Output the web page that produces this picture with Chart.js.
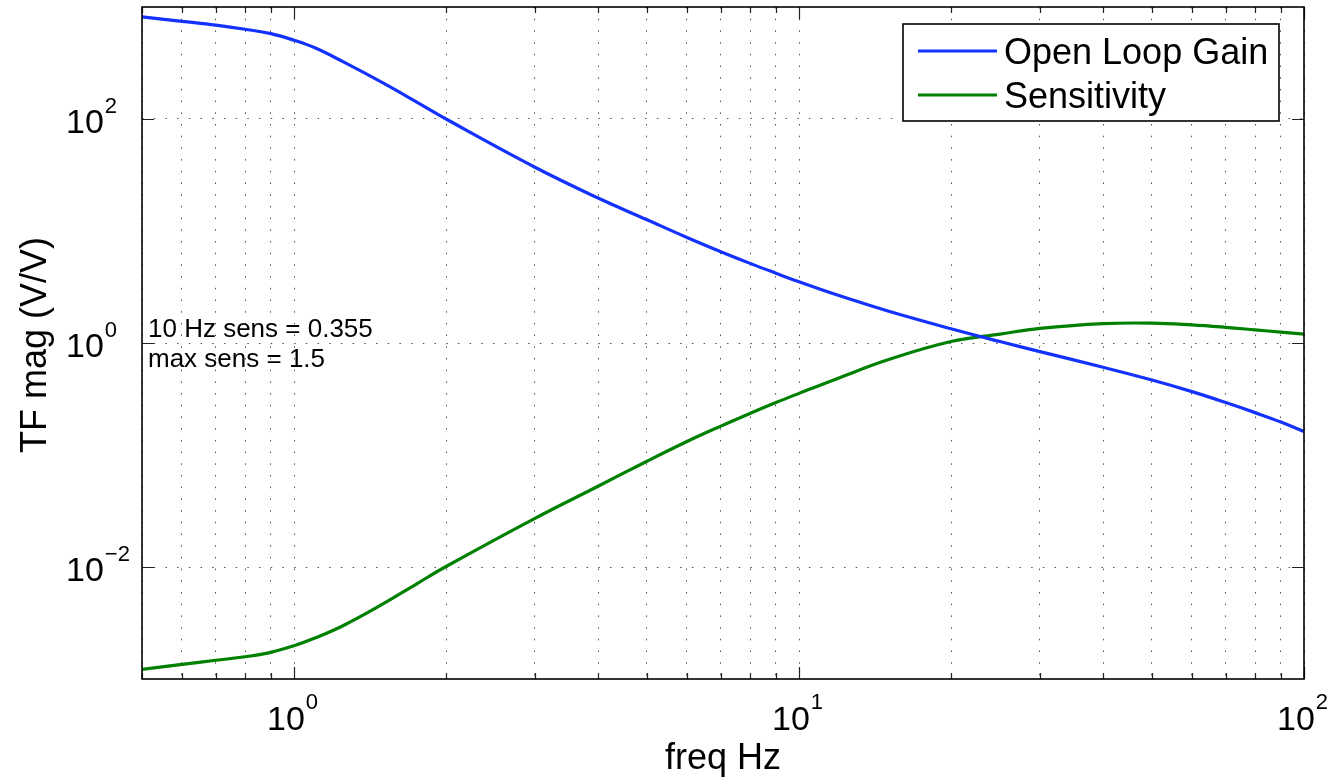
<!DOCTYPE html>
<html>
<head>
    <meta charset="utf-8">
    <title>Open Loop Gain / Sensitivity</title>
    <script src="https://cdn.jsdelivr.net/npm/chart.js@4.4.1/dist/chart.umd.min.js"></script>
    <style>
        html, body { margin: 0; padding: 0; background: #fff; }
        canvas { display: block; }
    </style>
</head>
<body>
<canvas id="tf-chart" width="1333" height="784"></canvas>
<script>
    // values
    var freqHz = [0.5, 0.6, 0.7, 0.8, 0.9, 1, 1.1, 1.25, 1.5, 1.75, 2, 3, 4, 5, 6, 7, 8, 9, 10,
        12, 15, 20, 25, 30, 40, 50, 60, 70, 80, 90, 100];
    var openLoopGain = [817, 745, 689, 633, 578, 505, 432, 325, 210, 141.6, 100, 37.1, 19.7, 12.6, 8.75,
        6.53, 5.14, 4.20, 3.52, 2.65, 1.93, 1.34, 1.03, 0.838, 0.607, 0.467, 0.368, 0.294, 0.239, 0.197, 0.162];
    var sensitivity = [0.00122, 0.00135, 0.00147, 0.00158, 0.00173, 0.00198, 0.00232, 0.00299, 0.00468,
        0.00708, 0.0101, 0.0272, 0.0526, 0.088, 0.132, 0.181, 0.235, 0.294, 0.355, 0.488, 0.708, 1.03,
        1.20, 1.35, 1.49, 1.505, 1.45, 1.38, 1.31, 1.25, 1.20];

    var xTickValues = [1, 10, 100];
    var xTickExponents = ['0', '1', '2'];
    var yTickValues = [0.01, 1, 100];
    var yTickExponents = ['\u22122', '0', '2'];
    var notes = ['10 Hz sens = 0.355', 'max sens = 1.5'];

    var FONT = '"Liberation Sans", Arial, Helvetica, sans-serif';
    var gridColor = 'rgba(50,50,50,0.85)';

    function toPoints(ys) {
        return freqHz.map(function (f, i) { return {x: f, y: ys[i]}; });
    }

    function drawPower(ctx, x, y, base, exp, bigSize, smallSize, rise) {
        ctx.font = bigSize + 'px ' + FONT;
        ctx.fillText(base, x, y);
        var w = ctx.measureText(base).width;
        ctx.font = smallSize + 'px ' + FONT;
        ctx.fillText(exp, x + w + 1, y - rise);
    }

    /* axes frame, ticks, labels, notes and legend in MATLAB style */
    var matlabAxes = {
        id: 'matlabAxes',
        afterDraw: function (chart) {
            var ctx = chart.ctx;
            var a = chart.chartArea;
            var xs = chart.scales.x, ys = chart.scales.y;
            ctx.save();
            ctx.fillStyle = '#000';
            ctx.textAlign = 'left';
            ctx.textBaseline = 'alphabetic';

            // inward tick marks
            ctx.strokeStyle = '#222';
            ctx.lineWidth = 1.2;
            xs.ticks.forEach(function (t) {
                var px = Math.round(xs.getPixelForValue(t.value)) + 0.5;
                var len = xTickValues.indexOf(t.value) >= 0 ? 12 : 6;
                ctx.beginPath();
                ctx.moveTo(px, a.bottom); ctx.lineTo(px, a.bottom - len);
                ctx.moveTo(px, a.top); ctx.lineTo(px, a.top + len);
                ctx.stroke();
            });
            yTickValues.forEach(function (v) {
                var py = Math.round(ys.getPixelForValue(v)) + 0.5;
                ctx.beginPath();
                ctx.moveTo(a.left, py); ctx.lineTo(a.left + 12, py);
                ctx.moveTo(a.right, py); ctx.lineTo(a.right - 12, py);
                ctx.stroke();
            });

            // frame
            ctx.strokeStyle = '#000';
            ctx.lineWidth = 1.6;
            ctx.strokeRect(a.left, a.top, a.right - a.left, a.bottom - a.top);

            // tick labels
            xTickValues.forEach(function (v, i) {
                var px = xs.getPixelForValue(v);
                drawPower(ctx, px - 27, a.bottom + 51, '10', xTickExponents[i], 34, 22, 21);
            });
            yTickValues.forEach(function (v, i) {
                var py = ys.getPixelForValue(v);
                drawPower(ctx, 66, py + 14, '10', yTickExponents[i], 34, 22, 20);
            });

            // axis titles
            ctx.font = '36px ' + FONT;
            ctx.textAlign = 'center';
            ctx.fillText('freq Hz', (a.left + a.right) / 2, 769);
            ctx.save();
            ctx.translate(46, (a.top + a.bottom) / 2 + 2);
            ctx.rotate(-Math.PI / 2);
            ctx.fillText('TF mag (V/V)', 0, 0);
            ctx.restore();

            // notes
            ctx.textAlign = 'left';
            ctx.font = '26px ' + FONT;
            ctx.fillText(notes[0], 148, 337);
            ctx.fillText(notes[1], 148, 367);

            // legend
            var lx = 903, ly = 24, lw = 376, lh = 97;
            ctx.fillStyle = '#fff';
            ctx.fillRect(lx, ly, lw, lh);
            ctx.strokeStyle = '#000';
            ctx.lineWidth = 1.6;
            ctx.strokeRect(lx, ly, lw, lh);
            ctx.font = '36px ' + FONT;
            chart.data.datasets.forEach(function (ds, i) {
                var rowY = i === 0 ? 51 : 95;
                ctx.strokeStyle = ds.borderColor;
                ctx.lineWidth = ds.borderWidth;
                ctx.beginPath();
                ctx.moveTo(918, rowY); ctx.lineTo(997, rowY);
                ctx.stroke();
                ctx.fillStyle = '#000';
                ctx.fillText(ds.label, 1004, rowY + 13);
            });
            ctx.restore();
        }
    };

    var config = {
        type: 'line',
        data: {
            datasets: [{
                label: 'Open Loop Gain',
                data: toPoints(openLoopGain),
                borderColor: '#1432ff',
                borderWidth: 3.2,
                pointRadius: 0,
                tension: 0.4,
                fill: false
            }, {
                label: 'Sensitivity',
                data: toPoints(sensitivity),
                borderColor: '#008000',
                borderWidth: 3.2,
                pointRadius: 0,
                tension: 0.4,
                fill: false
            }]
        },
        options: {
            responsive: false,
            animation: false,
            devicePixelRatio: 1,
            layout: {padding: {left: 142, top: 7, right: 29, bottom: 105}},
            plugins: {
                legend: {display: false},
                tooltip: {enabled: false}
            },
            scales: {
                x: {
                    type: 'logarithmic',
                    min: 0.5,
                    max: 100,
                    ticks: {display: false},
                    grid: {color: gridColor, lineWidth: 1, drawTicks: false},
                    border: {display: false, dash: [1.5, 10.2]},
                    afterBuildTicks: function (scale) {
                        var ticks = [];
                        [0.1, 1, 10].forEach(function (d) {
                            for (var k = 1; k <= 9; k++) {
                                var v = Math.round(k * d * 1000) / 1000;
                                if (v >= 0.5) ticks.push({value: v});
                            }
                        });
                        ticks.push({value: 100});
                        scale.ticks = ticks;
                    }
                },
                y: {
                    type: 'logarithmic',
                    min: 0.001,
                    max: 1000,
                    ticks: {display: false},
                    grid: {color: gridColor, lineWidth: 1, drawTicks: false},
                    border: {display: false, dash: [1.5, 10.2]},
                    afterBuildTicks: function (scale) {
                        scale.ticks = yTickValues.map(function (v) { return {value: v}; });
                    }
                }
            }
        },
        plugins: [matlabAxes]
    };

    window.onload = function () {
        var ctx = document.getElementById('tf-chart');
        window.tfChart = new Chart(ctx, config);
    };
</script>
</body>
</html>
